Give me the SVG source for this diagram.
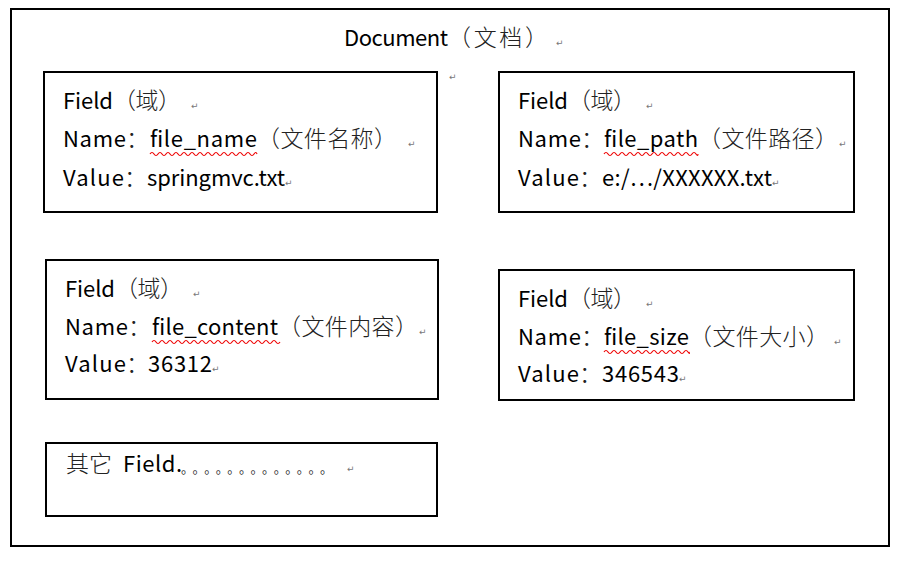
<svg xmlns="http://www.w3.org/2000/svg" width="906" height="564" viewBox="0 0 906 564">
<defs>
<style>
.box{fill:#fff;stroke:#000;stroke-width:2}
.t{font-family:"Noto Sans CJK SC","Liberation Sans",sans-serif;font-size:22px;fill:#000}
.cj{font-weight:300;fill:#222;font-size:23px}
.dots{font-family:"Noto Sans CJK SC",sans-serif;font-size:13px;fill:#333}
.pm{font-family:"DejaVu Sans",sans-serif;font-size:9px;fill:#777}
.wave{fill:none;stroke:#e00;stroke-width:1.2}
</style>
</defs>
<rect x="0" y="0" width="906" height="564" fill="#fff"/>
<g id="document">
<rect class="box" x="11" y="9" width="878" height="537"/>
<text class="t" y="46"><tspan x="344" textLength="104">Document</tspan><tspan class="cj" x="448" font-size="24" textLength="100">（文档）</tspan></text>
<text class="pm" x="556" y="46">↵</text>
<text class="pm" x="449" y="80">↵</text>
</g>
<g id="field-file-name">
<rect class="box" x="44" y="72" width="393" height="140"/>
<text class="t" y="109"><tspan x="63" textLength="50">Field</tspan><tspan class="cj" x="113" textLength="68">（域）</tspan></text>
<text class="pm" x="191" y="109">↵</text>
<text class="t" y="147"><tspan x="63" textLength="63">Name</tspan><tspan class="cj" x="126">：</tspan><tspan x="150" textLength="107">file_name</tspan><tspan class="cj" x="257" textLength="140">（文件名称）</tspan></text>
<text class="pm" x="408" y="147">↵</text>
<path class="wave" d="M150,154 q2,-3 4,0 t4,0 t4,0 t4,0 t4,0 t4,0 t4,0 t4,0 t4,0 t4,0 t4,0 t4,0 t4,0 t4,0 t4,0 t4,0 t4,0 t4,0 t4,0 t4,0 t4,0 t4,0 t4,0 t4,0 t4,0 t4,0 t3,0"/>
<text class="t" y="186"><tspan x="63" textLength="61">Value</tspan><tspan class="cj" x="124">：</tspan><tspan x="147" textLength="138">springmvc.txt</tspan></text>
<text class="pm" x="285" y="186">↵</text>
</g>
<g id="field-file-path">
<rect class="box" x="499" y="72" width="355" height="140"/>
<text class="t" y="109"><tspan x="518" textLength="50">Field</tspan><tspan class="cj" x="568" textLength="68">（域）</tspan></text>
<text class="pm" x="646" y="109">↵</text>
<text class="t" y="147"><tspan x="518" textLength="63">Name</tspan><tspan class="cj" x="581">：</tspan><tspan x="604" textLength="94">file_path</tspan><tspan class="cj" x="698" textLength="140">（文件路径）</tspan></text>
<text class="pm" x="839" y="147">↵</text>
<path class="wave" d="M604,154 q2,-3 4,0 t4,0 t4,0 t4,0 t4,0 t4,0 t4,0 t4,0 t4,0 t4,0 t4,0 t4,0 t4,0 t4,0 t4,0 t4,0 t4,0 t4,0 t4,0 t4,0 t4,0 t4,0 t4,0 t2,0"/>
<text class="t" y="186"><tspan x="518" textLength="61">Value</tspan><tspan class="cj" x="579">：</tspan><tspan x="602" textLength="170">e:/…/XXXXXX.txt</tspan></text>
<text class="pm" x="772" y="186">↵</text>
</g>
<g id="field-file-content">
<rect class="box" x="46" y="260" width="392" height="139"/>
<text class="t" y="297"><tspan x="65" textLength="50">Field</tspan><tspan class="cj" x="115" textLength="68">（域）</tspan></text>
<text class="pm" x="193" y="297">↵</text>
<text class="t" y="335"><tspan x="65" textLength="63">Name</tspan><tspan class="cj" x="128">：</tspan><tspan x="152" textLength="126">file_content</tspan><tspan class="cj" x="278" textLength="140">（文件内容）</tspan></text>
<text class="pm" x="419" y="335">↵</text>
<path class="wave" d="M152,342 q2,-3 4,0 t4,0 t4,0 t4,0 t4,0 t4,0 t4,0 t4,0 t4,0 t4,0 t4,0 t4,0 t4,0 t4,0 t4,0 t4,0 t4,0 t4,0 t4,0 t4,0 t4,0 t4,0 t4,0 t4,0 t4,0 t4,0 t4,0 t4,0 t4,0 t4,0 t4,0 t4,0"/>
<text class="t" y="372"><tspan x="65" textLength="61">Value</tspan><tspan class="cj" x="126">：</tspan><tspan x="148" textLength="64">36312</tspan></text>
<text class="pm" x="212" y="372">↵</text>
</g>
<g id="field-file-size">
<rect class="box" x="499" y="270" width="355" height="130"/>
<text class="t" y="307"><tspan x="518" textLength="50">Field</tspan><tspan class="cj" x="568" textLength="68">（域）</tspan></text>
<text class="pm" x="646" y="307">↵</text>
<text class="t" y="345"><tspan x="518" textLength="63">Name</tspan><tspan class="cj" x="581">：</tspan><tspan x="604" textLength="85">file_size</tspan><tspan class="cj" x="689" textLength="140">（文件大小）</tspan></text>
<text class="pm" x="834" y="345">↵</text>
<path class="wave" d="M604,352 q2,-3 4,0 t4,0 t4,0 t4,0 t4,0 t4,0 t4,0 t4,0 t4,0 t4,0 t4,0 t4,0 t4,0 t4,0 t4,0 t4,0 t4,0 t4,0 t4,0 t4,0 t4,0 t1,0"/>
<text class="t" y="382"><tspan x="518" textLength="61">Value</tspan><tspan class="cj" x="579">：</tspan><tspan x="602" textLength="77">346543</tspan></text>
<text class="pm" x="679" y="382">↵</text>
</g>
<g id="field-other">
<rect class="box" x="46" y="443" width="391" height="73"/>
<text class="t" y="472"><tspan class="cj" x="66" textLength="46">其它</tspan><tspan x="123" textLength="59">Field.</tspan></text>
<text class="dots" x="181" y="473" textLength="152" lengthAdjust="spacing">。。。。。。。。。。。。。</text>
<text class="pm" x="347" y="472">↵</text>
</g>
<g id="connectors"></g>
</svg>
